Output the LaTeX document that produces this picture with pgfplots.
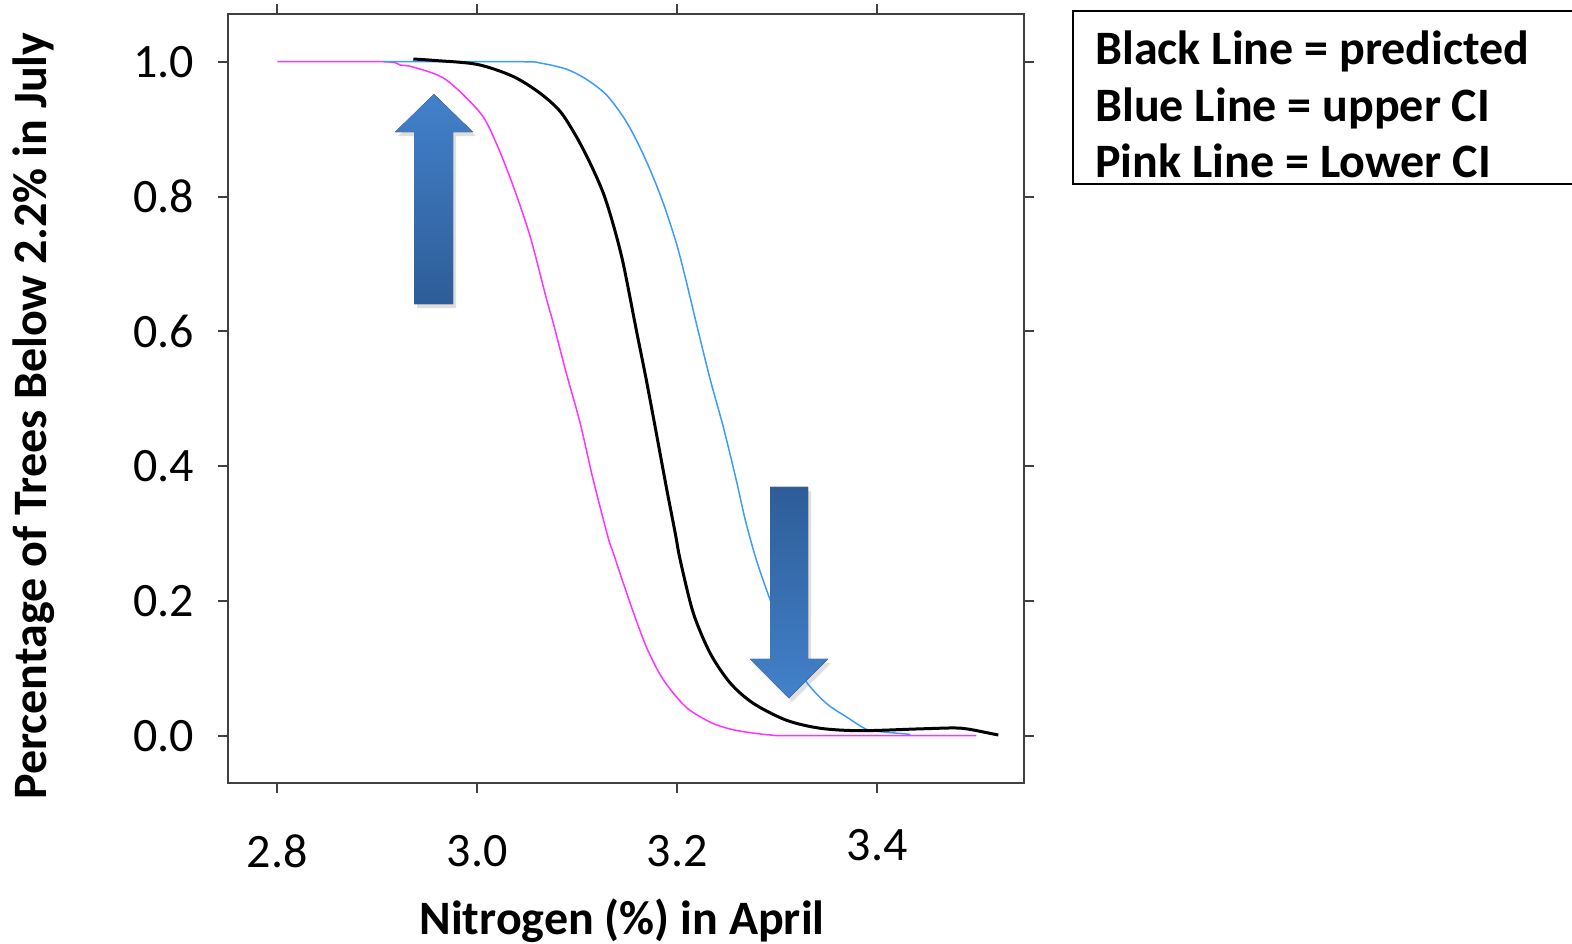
\documentclass[border=0pt]{standalone}
\usepackage{pgfplots}
\pgfplotsset{compat=1.18}
\usepackage{fontspec}
\setmainfont{Carlito}
\usetikzlibrary{shadows}
\definecolor{pinkc}{HTML}{FF33FF}
\definecolor{bluec}{HTML}{3D9BFF}
\definecolor{arrlight}{HTML}{4281CA}
\definecolor{arrdark}{HTML}{2E5D98}
\definecolor{axc}{HTML}{404040}
\begin{document}
\begin{tikzpicture}
\begin{axis}[
  at={(0,0)}, anchor=south west,
  width=398pt, height=384.5pt, scale only axis,
  xmin=2.7507, xmax=3.5467, ymin=-0.0702, ymax=1.0708,
  axis line style={axc, line width=1pt},
  every tick/.style={axc, line width=1pt},
  tick align=outside, major tick length=5pt,
  xtick={2.8,3.0,3.2}, extra x ticks={3.4},
  xticklabel style={yshift=-17.5pt},
  extra x tick style={xticklabel style={yshift=3pt}},
  yticklabel style={xshift=-8.5pt},
  ytick={0,0.2,0.4,0.6,0.8,1.0},
  ticklabel style={font=\fontsize{24}{29}\selectfont},
  /pgf/number format/assume math mode=true,
  /pgf/number format/.cd, fixed, fixed zerofill, precision=1,
]
\addplot[pinkc, line width=0.75pt, smooth] coordinates {
(2.800,1.000) (2.906,1.000) (2.923,0.995) (2.936,0.992) (2.968,0.974)
(3.003,0.924) (3.019,0.879) (3.036,0.815) (3.053,0.740) (3.069,0.649)
(3.076,0.612) (3.089,0.538) (3.103,0.463) (3.116,0.379) (3.131,0.293)
(3.136,0.271) (3.153,0.196) (3.169,0.132) (3.186,0.083) (3.209,0.042)
(3.233,0.020) (3.250,0.011) (3.266,0.006) (3.293,0.001) (3.320,0.000) (3.499,0.000)};
\addplot[bluec, line width=0.75pt, smooth] coordinates {
(2.906,1.000) (3.043,1.000) (3.063,0.998) (3.089,0.989) (3.109,0.974)
(3.129,0.951) (3.146,0.918) (3.159,0.884) (3.173,0.839) (3.186,0.790)
(3.199,0.731) (3.208,0.680) (3.219,0.612) (3.233,0.528) (3.246,0.458)
(3.259,0.379) (3.268,0.320) (3.279,0.261) (3.293,0.201) (3.313,0.125)
(3.329,0.080) (3.349,0.048) (3.369,0.028) (3.389,0.0095) (3.403,0.006)
(3.433,0.002)};
\addplot[black, line width=1.5pt, smooth] coordinates {
(2.936,1.004) (2.956,1.002) (3.000,0.996) (3.036,0.978) (3.063,0.953)
(3.083,0.926) (3.099,0.889) (3.113,0.849) (3.126,0.805) (3.136,0.758)
(3.146,0.700) (3.159,0.602) (3.169,0.528) (3.179,0.449)
(3.189,0.369) (3.198,0.300) (3.203,0.260) (3.216,0.182) (3.233,0.122)
(3.253,0.078) (3.276,0.048) (3.309,0.023) (3.343,0.011) (3.383,0.0074)
(3.440,0.010) (3.476,0.0115) (3.490,0.010) (3.506,0.0055) (3.521,0.001)};
\fill[top color=arrlight, bottom color=arrdark,
  drop shadow={shadow xshift=1.5pt, shadow yshift=-2pt, opacity=0.25}]
  (axis cs:2.9567,0.952) -- (axis cs:2.9957,0.8957) -- (axis cs:2.9757,0.8957)
  -- (axis cs:2.9757,0.6405) -- (axis cs:2.9367,0.6405) -- (axis cs:2.9367,0.8957)
  -- (axis cs:2.9177,0.8957) -- cycle;
\fill[top color=arrdark, bottom color=arrlight,
  drop shadow={shadow xshift=1.5pt, shadow yshift=-2pt, opacity=0.25}]
  (axis cs:3.2927,0.369) -- (axis cs:3.3307,0.369) -- (axis cs:3.3307,0.1138)
  -- (axis cs:3.3507,0.1138) -- (axis cs:3.3117,0.0559) -- (axis cs:3.2727,0.1138)
  -- (axis cs:3.2927,0.1138) -- cycle;
\end{axis}
\begin{scope}[x=0.5pt, y=-0.5pt, shift={(-114pt,391.5pt)}]
  \node[anchor=base, inner sep=0pt, font=\fontsize{24}{29}\selectfont\bfseries] at (622,934) {Nitrogen (\%) in April};
  \node[anchor=base, rotate=90, inner sep=0pt, font=\fontsize{24}{29}\selectfont\bfseries] at (47,416) {Percentage of Trees Below 2.2\% in July};
  \draw[line width=0.75pt] (1700,11) -- (1073,11) -- (1073,184) -- (1700,184);
  \node[anchor=base west, inner sep=0pt, font=\fontsize{24}{29}\selectfont\bfseries] at (1095,65) {Black Line = predicted};
  \node[anchor=base west, inner sep=0pt, font=\fontsize{24}{29}\selectfont\bfseries] at (1095,122) {Blue Line = upper CI};
  \node[anchor=base west, inner sep=0pt, font=\fontsize{24}{29}\selectfont\bfseries] at (1095,178) {Pink Line = Lower CI};
\end{scope}
\pgfresetboundingbox
\begin{scope}[x=0.5pt, y=-0.5pt, shift={(-114pt,391.5pt)}]
  \path[use as bounding box] (0,0) rectangle (1572,943);
\end{scope}
\end{tikzpicture}
\end{document}
